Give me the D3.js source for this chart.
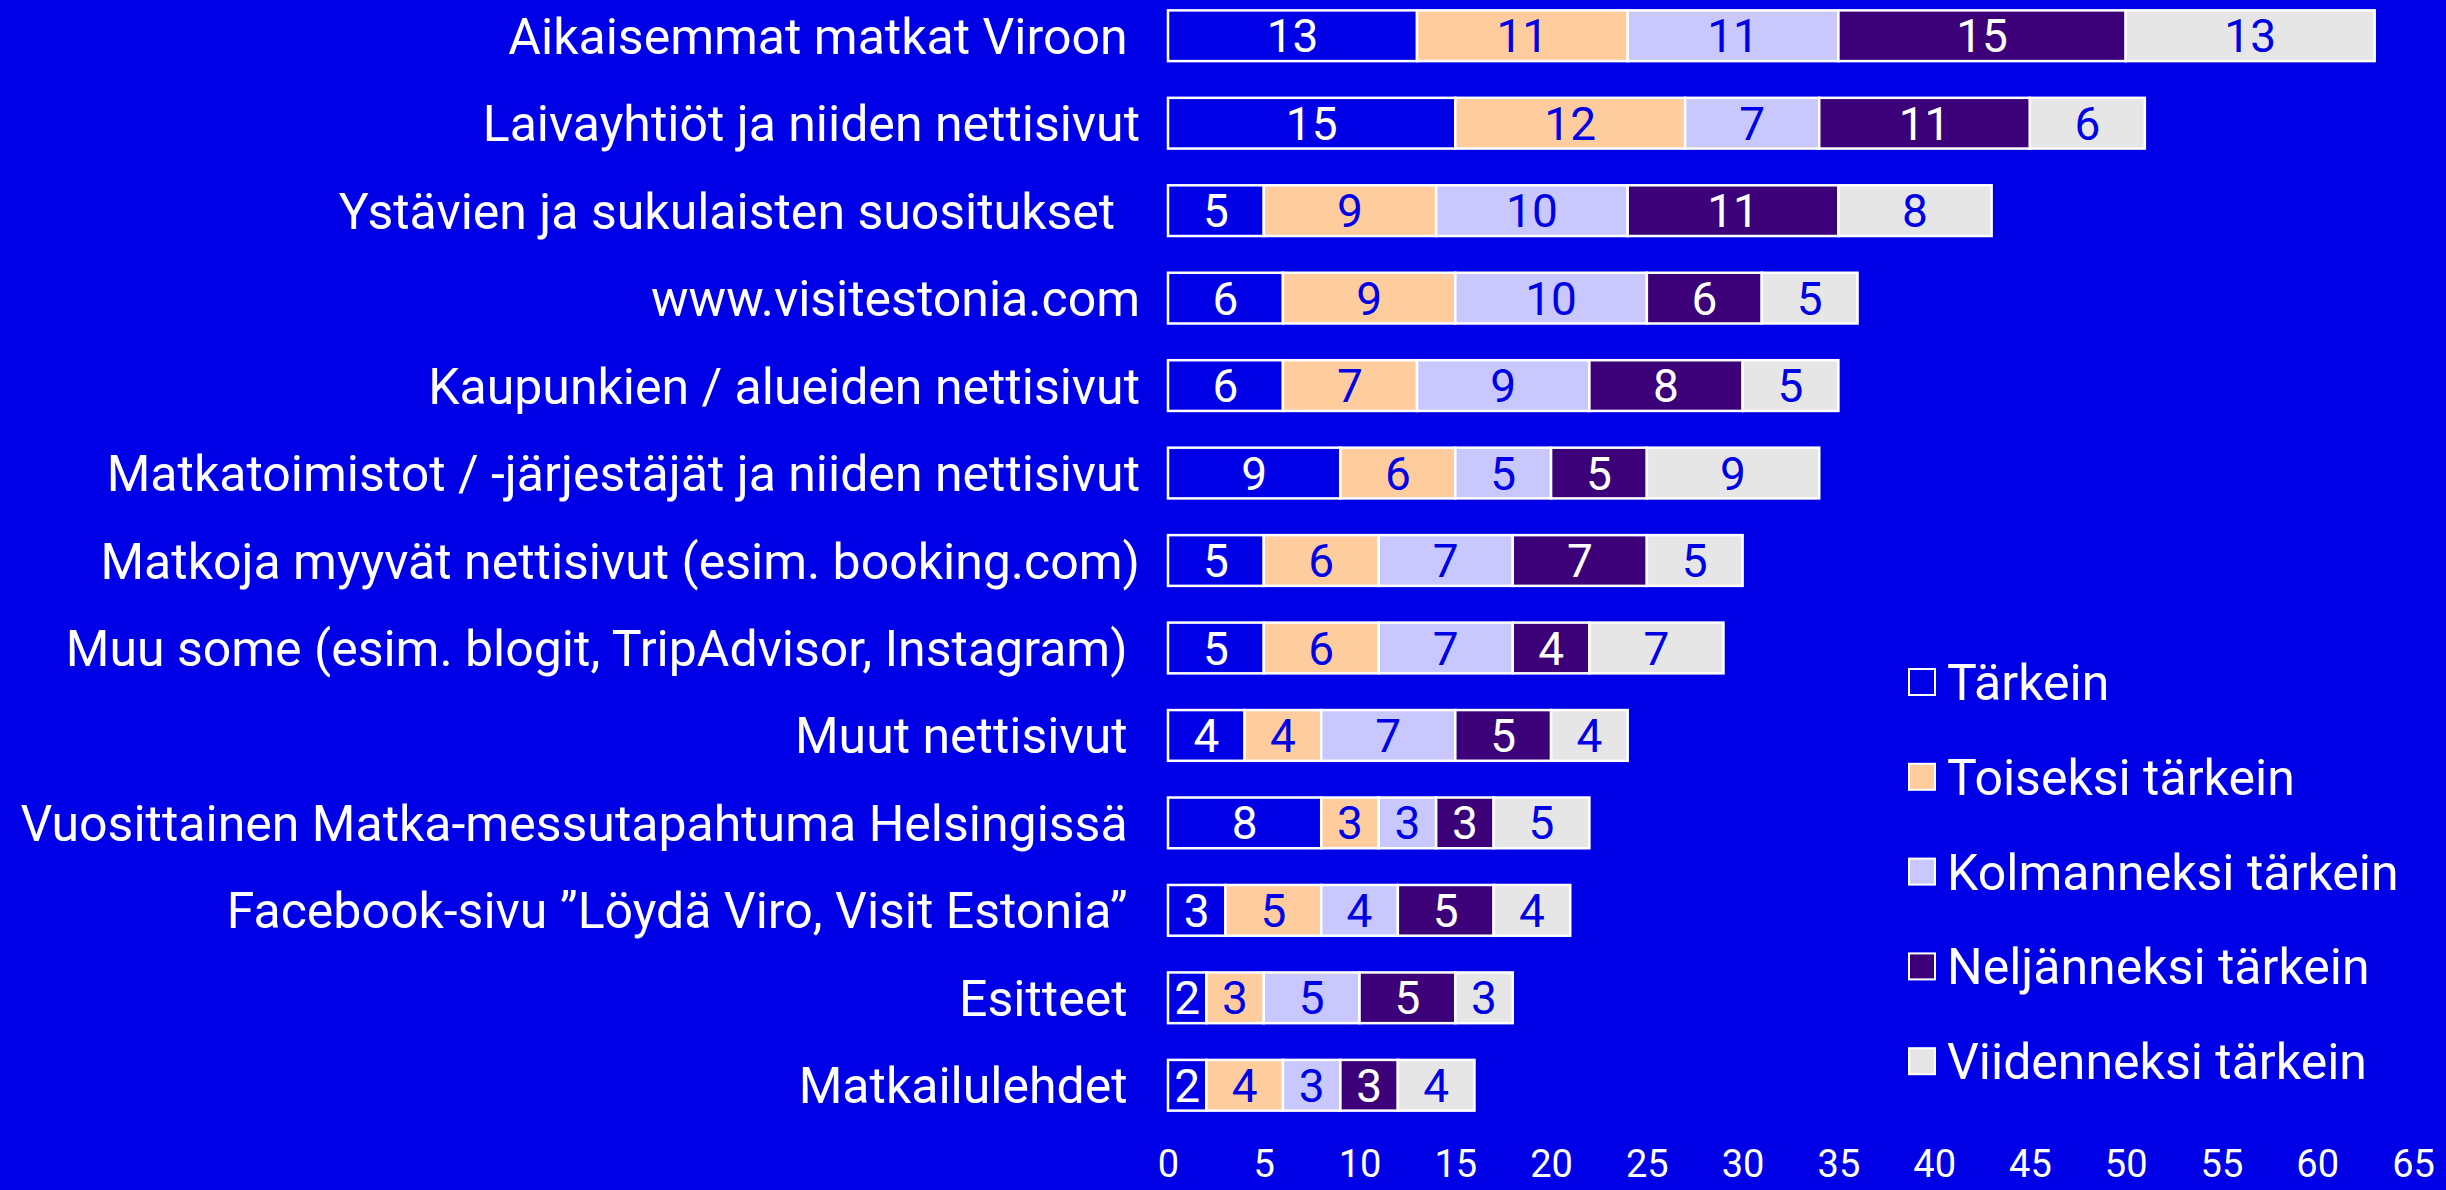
<!DOCTYPE html>
<html>
<head>
<meta charset="utf-8">
<script src="https://cdn.jsdelivr.net/npm/d3@7"></script>
<style>
  html, body { margin: 0; padding: 0; background: #0000e6; }
  svg { display: block; }
  text { font-family: Roboto, "Noto Sans", sans-serif; }
</style>
</head>
<body>
<svg id="chart" width="2446" height="1190"></svg>
<script>
// Information sources used when planning a trip to Estonia, ranked by importance
const categories = [
  "Aikaisemmat matkat Viroon ",
  "Laivayhtiöt ja niiden nettisivut",
  "Ystävien ja sukulaisten suositukset  ",
  "www.visitestonia.com",
  "Kaupunkien / alueiden nettisivut",
  "Matkatoimistot / -järjestäjät ja niiden nettisivut",
  "Matkoja myyvät nettisivut (esim. booking.com)",
  "Muu some (esim. blogit, TripAdvisor, Instagram) ",
  "Muut nettisivut ",
  "Vuosittainen Matka-messutapahtuma Helsingissä ",
  "Facebook-sivu ”Löydä Viro, Visit Estonia” ",
  "Esitteet ",
  "Matkailulehdet "
];

const seriesNames = [
  "Tärkein",
  "Toiseksi tärkein",
  "Kolmanneksi tärkein",
  "Neljänneksi tärkein",
  "Viidenneksi tärkein"
];

const tarkein       = [13, 15, 5, 6, 6, 9, 5, 5, 4, 8, 3, 2, 2];
const toiseksi      = [11, 12, 9, 9, 7, 6, 6, 6, 4, 3, 5, 3, 4];
const kolmanneksi   = [11, 7, 10, 10, 9, 5, 7, 7, 7, 3, 4, 5, 3];
const neljanneksi   = [15, 11, 11, 6, 8, 5, 7, 4, 5, 3, 5, 5, 3];
const viidenneksi   = [13, 6, 8, 5, 5, 9, 5, 7, 4, 5, 4, 3, 4];

const xTicks = [0, 5, 10, 15, 20, 25, 30, 35, 40, 45, 50, 55, 60, 65];

const seriesValues = [tarkein, toiseksi, kolmanneksi, neljanneksi, viidenneksi];
const fills = ["#0000e6", "#ffcc9e", "#c8c8ff", "#3c0078", "#e6e6e6"];
const labelColors = ["#ffffff", "#0000e6", "#0000e6", "#ffffff", "#0000e6"];

const rows = categories.map((c, i) => {
  const r = { category: c };
  seriesNames.forEach((s, j) => { r[s] = seriesValues[j][i]; });
  return r;
});

const stacked = d3.stack().keys(seriesNames)(rows);

const svg = d3.select("#chart");

const x = d3.scaleLinear().domain([0, 65]).range([1168, 2413]);
const y = d3.scaleBand()
  .domain(categories)
  .range([-8, 1129])
  .paddingInner(0.42)
  .paddingOuter(0.21);

// stacked segments
const layers = svg.append("g").selectAll("g")
  .data(stacked)
  .join("g")
  .attr("fill", (d, i) => fills[i]);

layers.selectAll("rect")
  .data(d => d)
  .join("rect")
  .attr("x", d => x(d[0]))
  .attr("y", d => y(d.data.category))
  .attr("width", d => x(d[1]) - x(d[0]))
  .attr("height", y.bandwidth())
  .attr("stroke", "#ffffff")
  .attr("stroke-width", 2.5);

// value labels inside segments
layers.each(function (layer, i) {
  d3.select(this).selectAll("text")
    .data(layer)
    .join("text")
    .attr("x", d => (x(d[0]) + x(d[1])) / 2)
    .attr("y", d => y(d.data.category) + y.bandwidth() / 2)
    .attr("dy", "0.36em")
    .attr("text-anchor", "middle")
    .attr("fill", labelColors[i])
    .attr("font-size", 46)
    .text(d => d[1] - d[0]);
});

// category labels
svg.append("g").selectAll("text")
  .data(categories)
  .join("text")
  .attr("x", 1140)
  .attr("y", d => y(d) + y.bandwidth() / 2)
  .attr("dy", "0.36em")
  .attr("text-anchor", "end")
  .attr("fill", "#ffffff")
  .attr("font-size", 50)
  .style("white-space", "pre")
  .text(d => d);

// x axis: labels only
const xAxis = svg.append("g")
  .attr("transform", "translate(0,1150)")
  .call(d3.axisBottom(x).tickValues(xTicks).tickSize(0).tickPadding(0));
xAxis.select(".domain").remove();
xAxis.selectAll("text")
  .attr("fill", "#ffffff")
  .attr("font-size", 38)
  .attr("font-family", "Roboto, sans-serif")
  .attr("dy", "0.71em");

// legend
const legend = svg.append("g").selectAll("g")
  .data(seriesNames)
  .join("g")
  .attr("transform", (d, i) => `translate(1909, ${682 + i * 94.8})`);

legend.append("rect")
  .attr("x", 0)
  .attr("y", -13)
  .attr("width", 26)
  .attr("height", 26)
  .attr("fill", (d, i) => fills[i])
  .attr("stroke", "#ffffff")
  .attr("stroke-width", 2);

legend.append("text")
  .attr("x", 38)
  .attr("y", 0)
  .attr("dy", "0.36em")
  .attr("fill", "#ffffff")
  .attr("font-size", 50)
  .text(d => d);
</script>
</body>
</html>
